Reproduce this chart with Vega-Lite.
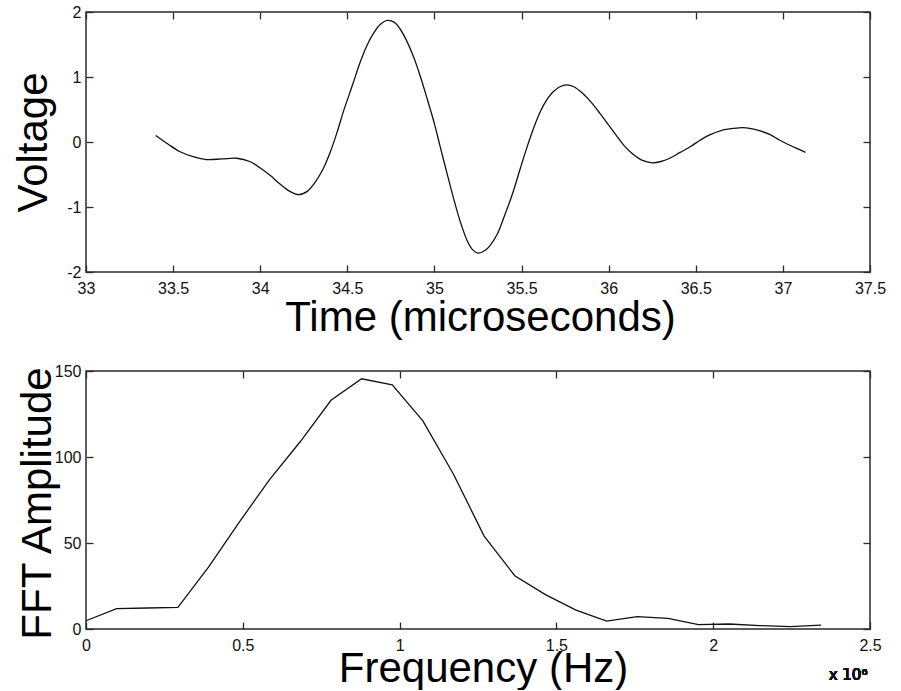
{
  "$schema": "https://vega.github.io/schema/vega-lite/v6.json",
  "background": "white",
  "padding": {"left": 11, "top": 3, "right": 0, "bottom": 0},
  "spacing": 99,
  "bounds": "flush",
  "config": {
    "view": {"stroke": "#2a2a2a", "strokeWidth": 1.5},
    "font": "Liberation Sans",
    "axis": {
      "labelFont": "Liberation Sans",
      "labelFontSize": 16,
      "labelColor": "#111",
      "labelExpr": "'' + datum.value",
      "titleFont": "Liberation Sans",
      "titleFontSize": 42,
      "titleFontWeight": "normal",
      "titleColor": "#000",
      "grid": false,
      "domain": false,
      "tickColor": "#2a2a2a",
      "tickWidth": 1.3,
      "tickSize": -7,
      "labelFlush": false,
      "labelOverlap": false
    },
    "axisX": {"labelPadding": 15},
    "axisY": {"labelPadding": 12}
  },
  "datasets": {
    "signal": [
      {"time": 33.40, "voltage": 0.10}, {"time": 33.47, "voltage": -0.03}, {"time": 33.54, "voltage": -0.15},
      {"time": 33.62, "voltage": -0.23}, {"time": 33.69, "voltage": -0.27}, {"time": 33.78, "voltage": -0.26},
      {"time": 33.865, "voltage": -0.25}, {"time": 33.94, "voltage": -0.30}, {"time": 34.00, "voltage": -0.40},
      {"time": 34.06, "voltage": -0.52}, {"time": 34.11, "voltage": -0.64}, {"time": 34.17, "voltage": -0.76},
      {"time": 34.22, "voltage": -0.81}, {"time": 34.27, "voltage": -0.76}, {"time": 34.31, "voltage": -0.64},
      {"time": 34.36, "voltage": -0.42}, {"time": 34.40, "voltage": -0.17}, {"time": 34.44, "voltage": 0.14},
      {"time": 34.48, "voltage": 0.49}, {"time": 34.53, "voltage": 0.88}, {"time": 34.57, "voltage": 1.20},
      {"time": 34.61, "voltage": 1.47}, {"time": 34.65, "voltage": 1.67}, {"time": 34.69, "voltage": 1.81},
      {"time": 34.73, "voltage": 1.87}, {"time": 34.77, "voltage": 1.84}, {"time": 34.80, "voltage": 1.75},
      {"time": 34.84, "voltage": 1.56}, {"time": 34.88, "voltage": 1.31}, {"time": 34.92, "voltage": 1.00},
      {"time": 34.96, "voltage": 0.65}, {"time": 35.00, "voltage": 0.28}, {"time": 35.03, "voltage": -0.04},
      {"time": 35.07, "voltage": -0.46}, {"time": 35.11, "voltage": -0.87}, {"time": 35.15, "voltage": -1.24},
      {"time": 35.19, "voltage": -1.53}, {"time": 35.22, "voltage": -1.66}, {"time": 35.25, "voltage": -1.71},
      {"time": 35.29, "voltage": -1.67}, {"time": 35.32, "voltage": -1.59}, {"time": 35.36, "voltage": -1.42},
      {"time": 35.40, "voltage": -1.15}, {"time": 35.45, "voltage": -0.78}, {"time": 35.49, "voltage": -0.43},
      {"time": 35.53, "voltage": -0.09}, {"time": 35.57, "voltage": 0.22}, {"time": 35.61, "voltage": 0.48},
      {"time": 35.65, "voltage": 0.67}, {"time": 35.68, "voltage": 0.77}, {"time": 35.72, "voltage": 0.85},
      {"time": 35.76, "voltage": 0.88}, {"time": 35.80, "voltage": 0.85}, {"time": 35.85, "voltage": 0.75},
      {"time": 35.90, "voltage": 0.61}, {"time": 35.95, "voltage": 0.44}, {"time": 36.00, "voltage": 0.26},
      {"time": 36.05, "voltage": 0.08}, {"time": 36.09, "voltage": -0.06}, {"time": 36.14, "voltage": -0.19},
      {"time": 36.19, "voltage": -0.28}, {"time": 36.25, "voltage": -0.32}, {"time": 36.30, "voltage": -0.30},
      {"time": 36.35, "voltage": -0.25}, {"time": 36.41, "voltage": -0.16}, {"time": 36.47, "voltage": -0.07},
      {"time": 36.52, "voltage": 0.02}, {"time": 36.58, "voltage": 0.11}, {"time": 36.65, "voltage": 0.18},
      {"time": 36.72, "voltage": 0.21}, {"time": 36.77, "voltage": 0.22}, {"time": 36.81, "voltage": 0.21},
      {"time": 36.87, "voltage": 0.17}, {"time": 36.93, "voltage": 0.11}, {"time": 36.98, "voltage": 0.03},
      {"time": 37.04, "voltage": -0.05}, {"time": 37.09, "voltage": -0.11}, {"time": 37.13, "voltage": -0.16}
    ],
    "spectrum": [
      {"freq": 0, "amp": 4.8}, {"freq": 97656, "amp": 11.8}, {"freq": 195312, "amp": 12.2},
      {"freq": 292969, "amp": 12.6}, {"freq": 390625, "amp": 36}, {"freq": 488281, "amp": 62},
      {"freq": 585937, "amp": 87}, {"freq": 683594, "amp": 109}, {"freq": 781250, "amp": 133},
      {"freq": 878906, "amp": 145.5}, {"freq": 976562, "amp": 142}, {"freq": 1074219, "amp": 121},
      {"freq": 1171875, "amp": 90}, {"freq": 1269531, "amp": 54}, {"freq": 1367187, "amp": 31},
      {"freq": 1464844, "amp": 20}, {"freq": 1562500, "amp": 11}, {"freq": 1660156, "amp": 4.6},
      {"freq": 1757812, "amp": 7.2}, {"freq": 1855469, "amp": 6.2}, {"freq": 1953125, "amp": 2.5},
      {"freq": 2050781, "amp": 2.9}, {"freq": 2148437, "amp": 2.0}, {"freq": 2246094, "amp": 1.4},
      {"freq": 2343750, "amp": 2.3}
    ]
  },
  "vconcat": [
    {
      "width": 784,
      "height": 260,
      "data": {"name": "signal"},
      "layer": [
        {
          "mark": {"type": "line", "interpolate": "catmull-rom", "color": "#111", "strokeWidth": 1.3},
          "encoding": {
            "x": {"field": "time", "type": "quantitative",
                  "scale": {"domain": [33, 37.5], "nice": false, "zero": false},
                  "axis": {"values": [33, 33.5, 34, 34.5, 35, 35.5, 36, 36.5, 37, 37.5], "title": "Time (microseconds)",
                           "titleBaseline": "alphabetic", "titleY": 58, "titleX": 394, "titleAlign": "center"}},
            "y": {"field": "voltage", "type": "quantitative",
                  "scale": {"domain": [-2, 2], "nice": false, "zero": false},
                  "axis": {"values": [-2, -1, 0, 1, 2], "title": "Voltage",
                           "titleBaseline": "alphabetic", "titleAngle": 270, "titleX": -40, "titleY": 130, "titleAlign": "center"}}
          }
        },
        {
          "mark": {"type": "line", "strokeOpacity": 0},
          "encoding": {
            "x": {"field": "time", "type": "quantitative",
                  "axis": {"orient": "top", "values": [33, 33.5, 34, 34.5, 35, 35.5, 36, 36.5, 37, 37.5], "labels": false, "title": null}},
            "y": {"field": "voltage", "type": "quantitative",
                  "axis": {"orient": "right", "values": [-2, -1, 0, 1, 2], "labels": false, "title": null}}
          }
        }
      ],
      "resolve": {"axis": {"x": "independent", "y": "independent"}}
    },
    {
      "width": 784,
      "height": 258,
      "data": {"name": "spectrum"},
      "layer": [
        {
          "mark": {"type": "line", "color": "#111", "strokeWidth": 1.3},
          "encoding": {
            "x": {"field": "freq", "type": "quantitative",
                  "scale": {"domain": [0, 2500000], "nice": false},
                  "axis": {"values": [0, 500000, 1000000, 1500000, 2000000, 2500000],
                           "labelExpr": "'' + (datum.value / 1000000)",
                           "title": "Frequency (Hz)",
                           "titleBaseline": "alphabetic", "titleY": 52, "titleX": 397, "titleAlign": "center"}},
            "y": {"field": "amp", "type": "quantitative",
                  "scale": {"domain": [0, 150], "nice": false},
                  "axis": {"values": [0, 50, 100, 150], "title": "FFT Amplitude",
                           "titleBaseline": "alphabetic", "titleAngle": 270, "titleX": -36, "titleY": 132, "titleAlign": "center"}}
          }
        },
        {
          "mark": {"type": "line", "strokeOpacity": 0},
          "encoding": {
            "x": {"field": "freq", "type": "quantitative",
                  "axis": {"orient": "top", "values": [0, 500000, 1000000, 1500000, 2000000, 2500000], "labels": false, "title": null}},
            "y": {"field": "amp", "type": "quantitative",
                  "axis": {"orient": "right", "values": [0, 50, 100, 150], "labels": false, "title": null}}
          }
        },
        {
          "mark": {"type": "text", "text": "x 10⁶", "font": "DejaVu Sans", "fontSize": 15, "fontWeight": "normal", "align": "center", "baseline": "alphabetic", "color": "#111", "clip": false},
          "encoding": {
            "x": {"datum": 2430000, "type": "quantitative", "axis": null},
            "y": {"datum": -29.7, "type": "quantitative", "axis": null}
          }
        }
      ],
      "resolve": {"axis": {"x": "independent", "y": "independent"}}
    }
  ]
}
